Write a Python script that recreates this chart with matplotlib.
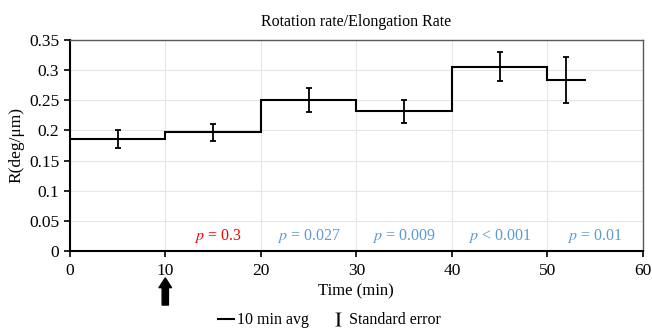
import matplotlib.pyplot as plt
from matplotlib.lines import Line2D

plt.rcParams['font.family'] = ['Liberation Serif', 'DejaVu Serif']
plt.rcParams['mathtext.fontset'] = 'stix'

# 10 min Mittelwerte (Stufen)
step_edges = [0, 10, 20, 30, 40, 50, 54]
step_vals = [0.185, 0.197, 0.251, 0.232, 0.306, 0.284]

# Standardfehler
err_x = [5, 15, 25, 35, 45, 52]
err_y = [0.1855, 0.197, 0.2505, 0.232, 0.306, 0.284]
err_se = [0.015, 0.014, 0.020, 0.019, 0.024, 0.038]

# p-Werte
p_x = [15.5, 25, 35, 45, 55]
p_labels = ['$p$ = 0.3', '$p$ = 0.027', '$p$ = 0.009', '$p$ < 0.001', '$p$ = 0.01']
p_colors = ['#ff0000', '#5b9bd5', '#5b9bd5', '#5b9bd5', '#5b9bd5']

fig = plt.figure(figsize=(6.52, 3.31), dpi=100)
ax = fig.add_axes([0.107, 0.242, 0.879, 0.637])

ax.stairs(step_vals, step_edges, color='black', linewidth=1.5, baseline=None)
ax.errorbar(err_x, err_y, yerr=err_se, fmt='none', ecolor='black',
            elinewidth=1.3, capsize=2, capthick=1.3)

for x, lab, c in zip(p_x, p_labels, p_colors):
    ax.text(x, 0.025, lab, color=c, fontsize=11.5, ha='center', va='center')

ax.set_xlim(0, 60)
ax.set_ylim(0, 0.35)
ax.set_xticks(range(0, 61, 10))
ax.set_yticks([0, 0.05, 0.1, 0.15, 0.2, 0.25, 0.3, 0.35])
ax.set_yticklabels(['0', '0.05', '0.1', '0.15', '0.2', '0.25', '0.3', '0.35'])
ax.tick_params(labelsize=12.5, length=4, width=1.2, color='black')
ax.tick_params(axis='x', pad=5)
ax.grid(True, color='#e6e6e6', linewidth=0.8)
ax.set_axisbelow(True)
for s in ['left', 'bottom']:
    ax.spines[s].set_linewidth(1.5)
    ax.spines[s].set_color('black')
for s in ['top', 'right']:
    ax.spines[s].set_linewidth(1.0)
    ax.spines[s].set_color('#595959')

ax.set_title('Rotation rate/Elongation Rate', fontsize=11.5, pad=10)
ax.set_xlabel('Time (min)', fontsize=12, labelpad=3)
ax.set_ylabel('R(deg/μm)', fontsize=12.5, labelpad=3)

# Pfeil bei 10 min
ax.annotate('', xy=(10, -0.115), xytext=(10, -0.27),
            xycoords=('data', 'axes fraction'), textcoords=('data', 'axes fraction'),
            arrowprops=dict(arrowstyle='simple,head_width=0.9,head_length=0.7,tail_width=0.45',
                            color='black'), annotation_clip=False)

handles = [Line2D([], [], color='black', linewidth=1.5),
           Line2D([], [], linestyle='none', marker=r'$\mathrm{I}$', markersize=10,
                  markeredgewidth=0, color='black')]
fig.legend(handles, ['10 min avg', 'Standard error'], loc='center',
           bbox_to_anchor=(0.505, 0.032), ncol=2, frameon=False, fontsize=11.5,
           handlelength=1.0, handletextpad=0.2, columnspacing=1.3)

plt.savefig('out.png', dpi=100)
